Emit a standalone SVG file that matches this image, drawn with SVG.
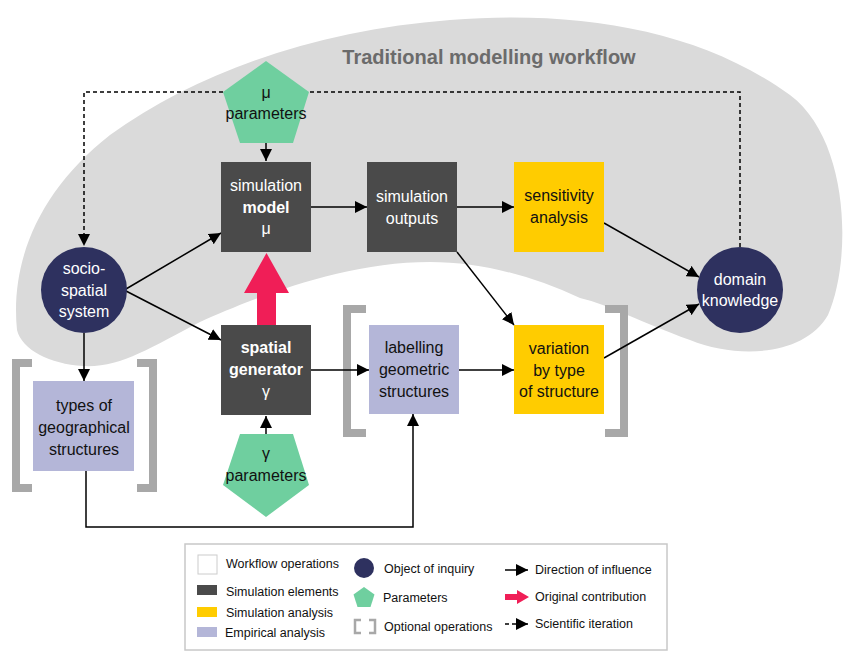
<svg xmlns="http://www.w3.org/2000/svg" width="856" height="664" viewBox="0 0 856 664">
<defs>
<marker id="ah" markerUnits="userSpaceOnUse" markerWidth="13" markerHeight="12" refX="12" refY="6" orient="auto"><path d="M0,0 L12,6 L0,12 z" fill="#000"/></marker>
<style>
text{font-family:"Liberation Sans",Arial,sans-serif;font-size:16px;text-anchor:middle}
.w{fill:#fff}.k{fill:#111}.b{font-weight:bold}
.sim{fill:#4a4a4a}.ana{fill:#ffcc00}.emp{fill:#b4b6d8}.obj{fill:#2e315f}.par{fill:#6fcf9f}
.c{fill:none;stroke:#000;stroke-width:1.5}
.d{stroke-dasharray:4 3}
.br{fill:none;stroke:#a8a8a8;stroke-width:8}
.lg{font-size:12.5px;text-anchor:start;fill:#111}
</style>
</defs>
<rect width="856" height="664" fill="#fff"/>
<path id="workflow-bg" fill="#dadada" d="M 17,330 C 10,260 40,190 110,135 C 200,70 320,30 450,20 C 580,10 700,30 790,95 C 850,140 852,260 828,315 C 805,355 740,360 690,340 C 640,322 610,305 580,298 C 530,275 480,262 430,262 C 340,262 250,300 200,322 C 150,348 120,368 83,366 C 50,364 22,350 17,330 Z"/>
<text x="489" y="64" class="b" style="font-size:20px;fill:#6b6b6b">Traditional modelling workflow</text>

<g id="brackets">
<path class="br" d="M32,363 H16 V488 H32"/>
<path class="br" d="M137,363 H153 V488 H137"/>
<path class="br" d="M366,309 H347 V433 H366"/>
<path class="br" d="M605,309 H624 V433 H605"/>
</g>

<g id="connectors">
<path class="c d" d="M740,247 V92 H84 V246" marker-end="url(#ah)"/>
<path class="c" d="M266,143 V161" marker-end="url(#ah)"/>
<path class="c" d="M266,434 V416" marker-end="url(#ah)"/>
<path class="c" d="M126,289 L221,233" marker-end="url(#ah)"/>
<path class="c" d="M126,291 L221,340" marker-end="url(#ah)"/>
<path class="c" d="M84,333 V381" marker-end="url(#ah)"/>
<path class="c" d="M311,207 H367" marker-end="url(#ah)"/>
<path class="c" d="M457,207 H514" marker-end="url(#ah)"/>
<path class="c" d="M457,252 L514,325" marker-end="url(#ah)"/>
<path class="c" d="M604,223 L699,277" marker-end="url(#ah)"/>
<path class="c" d="M604,358 L699,304" marker-end="url(#ah)"/>
<path class="c" d="M311,370 H369" marker-end="url(#ah)"/>
<path class="c" d="M459,370 H514" marker-end="url(#ah)"/>
<path class="c" d="M86,471 V527 H413 V414" marker-end="url(#ah)"/>
<polygon id="original-contribution" fill="#f01e57" points="257,325 276,325 276,293 289,293 266.5,253 244,293 257,293"/>
</g>

<g id="mu-parameters">
<polygon class="par" points="266,61 309,92 293,143 240,143 223,92"/>
<text x="266" y="98" class="k">μ</text>
<text x="266" y="119" class="k">parameters</text>
</g>
<g id="simulation-model">
<rect class="sim" x="221" y="162" width="90" height="90"/>
<text x="266" y="191" class="w">simulation</text>
<text x="266" y="213" class="w b">model</text>
<text x="266" y="234" class="w">μ</text>
</g>
<g id="simulation-outputs">
<rect class="sim" x="367" y="162" width="90" height="90"/>
<text x="412" y="202" class="w">simulation</text>
<text x="412" y="224" class="w">outputs</text>
</g>
<g id="sensitivity-analysis">
<rect class="ana" x="514" y="162" width="90" height="90"/>
<text x="559" y="201" class="k">sensitivity</text>
<text x="559" y="223" class="k">analysis</text>
</g>
<g id="domain-knowledge">
<circle class="obj" cx="740" cy="290" r="43"/>
<text x="740" y="285" class="w">domain</text>
<text x="740" y="306" class="w">knowledge</text>
</g>
<g id="socio-spatial-system">
<circle class="obj" cx="84" cy="290" r="43"/>
<text x="84" y="274" class="w">socio-</text>
<text x="84" y="296" class="w">spatial</text>
<text x="84" y="317" class="w">system</text>
</g>
<g id="spatial-generator">
<rect class="sim" x="221" y="325" width="90" height="90"/>
<text x="266" y="353" class="w b">spatial</text>
<text x="266" y="375" class="w b">generator</text>
<text x="266" y="397" class="w">γ</text>
</g>
<g id="gamma-parameters">
<polygon class="par" points="240,434 293,434 309,485 266,517 223,485"/>
<text x="266" y="459" class="k">γ</text>
<text x="266" y="481" class="k">parameters</text>
</g>
<g id="labelling">
<rect class="emp" x="369" y="325" width="90" height="89"/>
<text x="414" y="353" class="k">labelling</text>
<text x="414" y="375" class="k">geometric</text>
<text x="414" y="397" class="k">structures</text>
</g>
<g id="variation">
<rect class="ana" x="514" y="325" width="90" height="89"/>
<text x="559" y="354" class="k">variation</text>
<text x="559" y="376" class="k">by type</text>
<text x="559" y="397" class="k">of structure</text>
</g>
<g id="types">
<rect class="emp" x="33" y="381" width="101" height="90"/>
<text x="84" y="411" class="k">types of</text>
<text x="84" y="433" class="k">geographical</text>
<text x="84" y="455" class="k">structures</text>
</g>

<g id="legend">
<rect x="185" y="544" width="482" height="106" fill="#fff" stroke="#c8c8c8" stroke-width="1.5"/>
<rect x="198" y="555" width="19" height="19" fill="#fff" stroke="#ccc" stroke-width="1"/>
<text x="226" y="568" class="lg">Workflow operations</text>
<rect x="197" y="585" width="20" height="10" class="sim"/>
<text x="226" y="596" class="lg">Simulation elements</text>
<rect x="197" y="607" width="20" height="10" class="ana"/>
<text x="226" y="617" class="lg">Simulation analysis</text>
<rect x="197" y="627" width="20" height="10" class="emp"/>
<text x="225" y="637" class="lg">Empirical analysis</text>
<circle cx="364" cy="568" r="10" class="obj"/>
<text x="384" y="573" class="lg">Object of inquiry</text>
<polygon class="par" points="364,587 374.5,594.6 370.5,607 357.5,607 353.5,594.6"/>
<text x="383" y="602" class="lg">Parameters</text>
<path d="M361,620 H355 V633 H361 M369,620 H375 V633 H369" fill="none" stroke="#a8a8a8" stroke-width="2.5"/>
<text x="384" y="631" class="lg">Optional operations</text>
<path class="c" d="M505,570 H528" marker-end="url(#ah)"/>
<text x="535" y="574" class="lg">Direction of influence</text>
<polygon fill="#f01e57" points="505,594 517,594 517,590 529,597 517,604 517,600 505,600"/>
<text x="535" y="601" class="lg">Original contribution</text>
<path class="c d" d="M505,624 H528" marker-end="url(#ah)"/>
<text x="535" y="628" class="lg">Scientific iteration</text>
</g>
</svg>
